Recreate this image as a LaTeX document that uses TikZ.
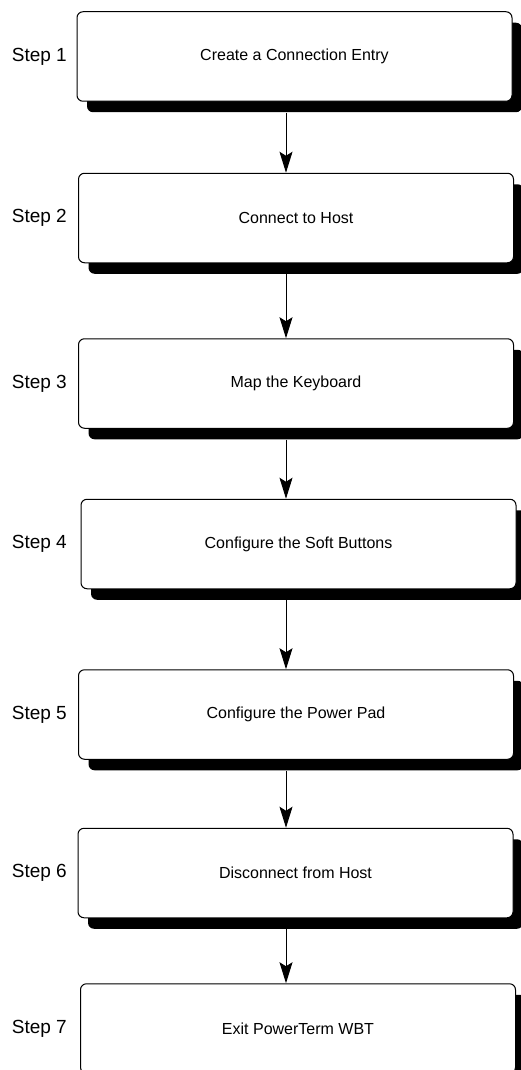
\documentclass[tikz,border=0pt]{standalone}
\usepackage{fontspec}
\setmainfont{Liberation Sans}
\usepackage{tikz}
\usetikzlibrary{arrows.meta, positioning, shadows}

\begin{document}
\begin{tikzpicture}[
  stepbox/.style={draw, line width=1pt, rounded corners=6pt, fill=white,
    minimum width=435pt, minimum height=89.5pt, inner sep=0pt,
    font=\fontsize{16}{18}\selectfont,
    drop shadow={shadow xshift=10pt, shadow yshift=-11pt, opacity=1, fill=black}},
  steplabel/.style={font=\fontsize{19}{21}\selectfont, inner sep=0pt},
  flowarrow/.style={-{Stealth[length=21pt, width=13pt, inset=4pt]}, line width=1pt}
]
  \useasboundingbox (0,0) rectangle (521pt,-1070pt);

  \node[stepbox] (b1) at (294.5pt,-56.5pt) {Create a Connection Entry};
  \node[stepbox, below=71pt of b1, xshift=1.5pt] (b2) {Connect to Host};
  \node[stepbox, below=75pt of b2] (b3) {Map the Keyboard};
  \node[stepbox, below=70pt of b3, xshift=2.5pt] (b4) {Configure the Soft Buttons};
  \node[stepbox, below=80pt of b4, xshift=-2.5pt] (b5) {Configure the Power Pad};
  \node[stepbox, below=68pt of b5, xshift=-0.5pt] (b6) {Disconnect from Host};
  \node[stepbox, below=65pt of b6, xshift=2.5pt] (b7) {Exit PowerTerm WBT};

  % step numbers to the left of each box
  \coordinate (lx) at (67pt,0);
  \foreach \i in {1,...,7}
    \node[steplabel, anchor=east] (s\i) at (b\i.west -| lx) {Step \i};

  % arrows run down a common line
  \coordinate (ax) at (286pt,0);
  \foreach \i [count=\j from 2] in {1,...,6}
    \draw[flowarrow] ([yshift=-11pt]b\i.south -| ax) -- (b\j.north -| ax);
\end{tikzpicture}
\end{document}
